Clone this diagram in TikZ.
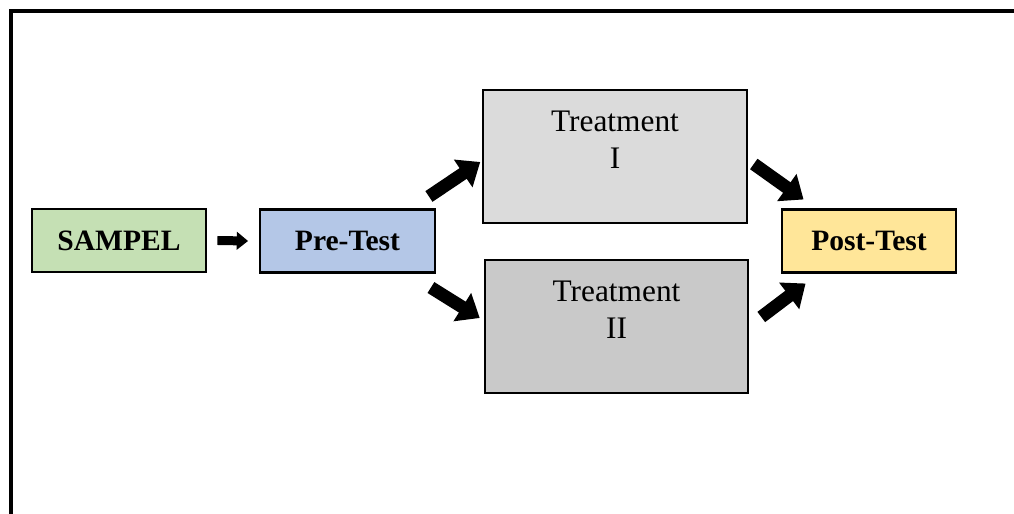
\documentclass[tikz,border=0pt]{standalone}
\usepackage{fontspec}
\setmainfont{Liberation Serif}
\usetikzlibrary{positioning,arrows.meta}
\definecolor{sampelgreen}{HTML}{C5E0B4}
\definecolor{pretestblue}{HTML}{B4C7E7}
\definecolor{treatlight}{HTML}{DBDBDB}
\definecolor{treatdark}{HTML}{C9C9C9}
\definecolor{posttestyellow}{HTML}{FFE699}
\tikzset{
  stagebox/.style={draw, line width=0.8pt, minimum width=68pt, minimum height=24.5pt,
    font=\fontsize{11.5}{14}\selectfont\bfseries},
  treatbox/.style={draw, line width=0.8pt, minimum width=102.5pt, minimum height=52pt},
  treattext/.style={align=center, font=\fontsize{12.2}{14.5}\selectfont, inner sep=0pt},
  fatarrow/.style={line width=5pt, -{Triangle[width=12.5pt,length=8pt]}},
  thinarrow/.style={line width=3.5pt, -{Triangle[width=6.8pt,length=4.4pt]}}
}
\begin{document}
\begin{tikzpicture}[x=0.389pt,y=-0.389pt]
  \useasboundingbox (0,0) rectangle (1014,514);
  % frame
  \draw [line width=1.3pt] (11,514) -- (11,11) -- (1014,11);
  % boxes
  \node [stagebox, fill=sampelgreen] (sampel) at (119,240.5) {SAMPEL};
  \node [stagebox, fill=pretestblue] (pre) at (347.5,241) {Pre-Test};
  \node [treatbox, fill=treatlight] (tI) at (615,156.5) {};
  \node [treatbox, fill=treatdark] (tII) at (616.5,326.5) {};
  \node [stagebox, fill=posttestyellow] (post) at (869,241) {Post-Test};
  \node [treattext, below=8.5pt of tI.north] (tItext) {Treatment\\I};
  \node [treattext, below=8.5pt of tII.north] (tIItext) {Treatment\\II};
  % arrows
  \draw [thinarrow] ([shift={(10,0)}]sampel.east) -- ([shift={(-11,0)}]pre.west);
  \draw [fatarrow] ([shift={(-7,-12)}]pre.north east) -- ([shift={(-2,5.5)}]tI.west);
  \draw [fatarrow] ([shift={(-5,14)}]pre.south east) -- ([shift={(-4,-8.5)}]tII.west);
  \draw [fatarrow] ([shift={(6,7.5)}]tI.east) -- ([shift={(23,-9)}]post.north west);
  \draw [fatarrow] ([shift={(12,-9.5)}]tII.east) -- ([shift={(25,10)}]post.south west);
\end{tikzpicture}
\end{document}
